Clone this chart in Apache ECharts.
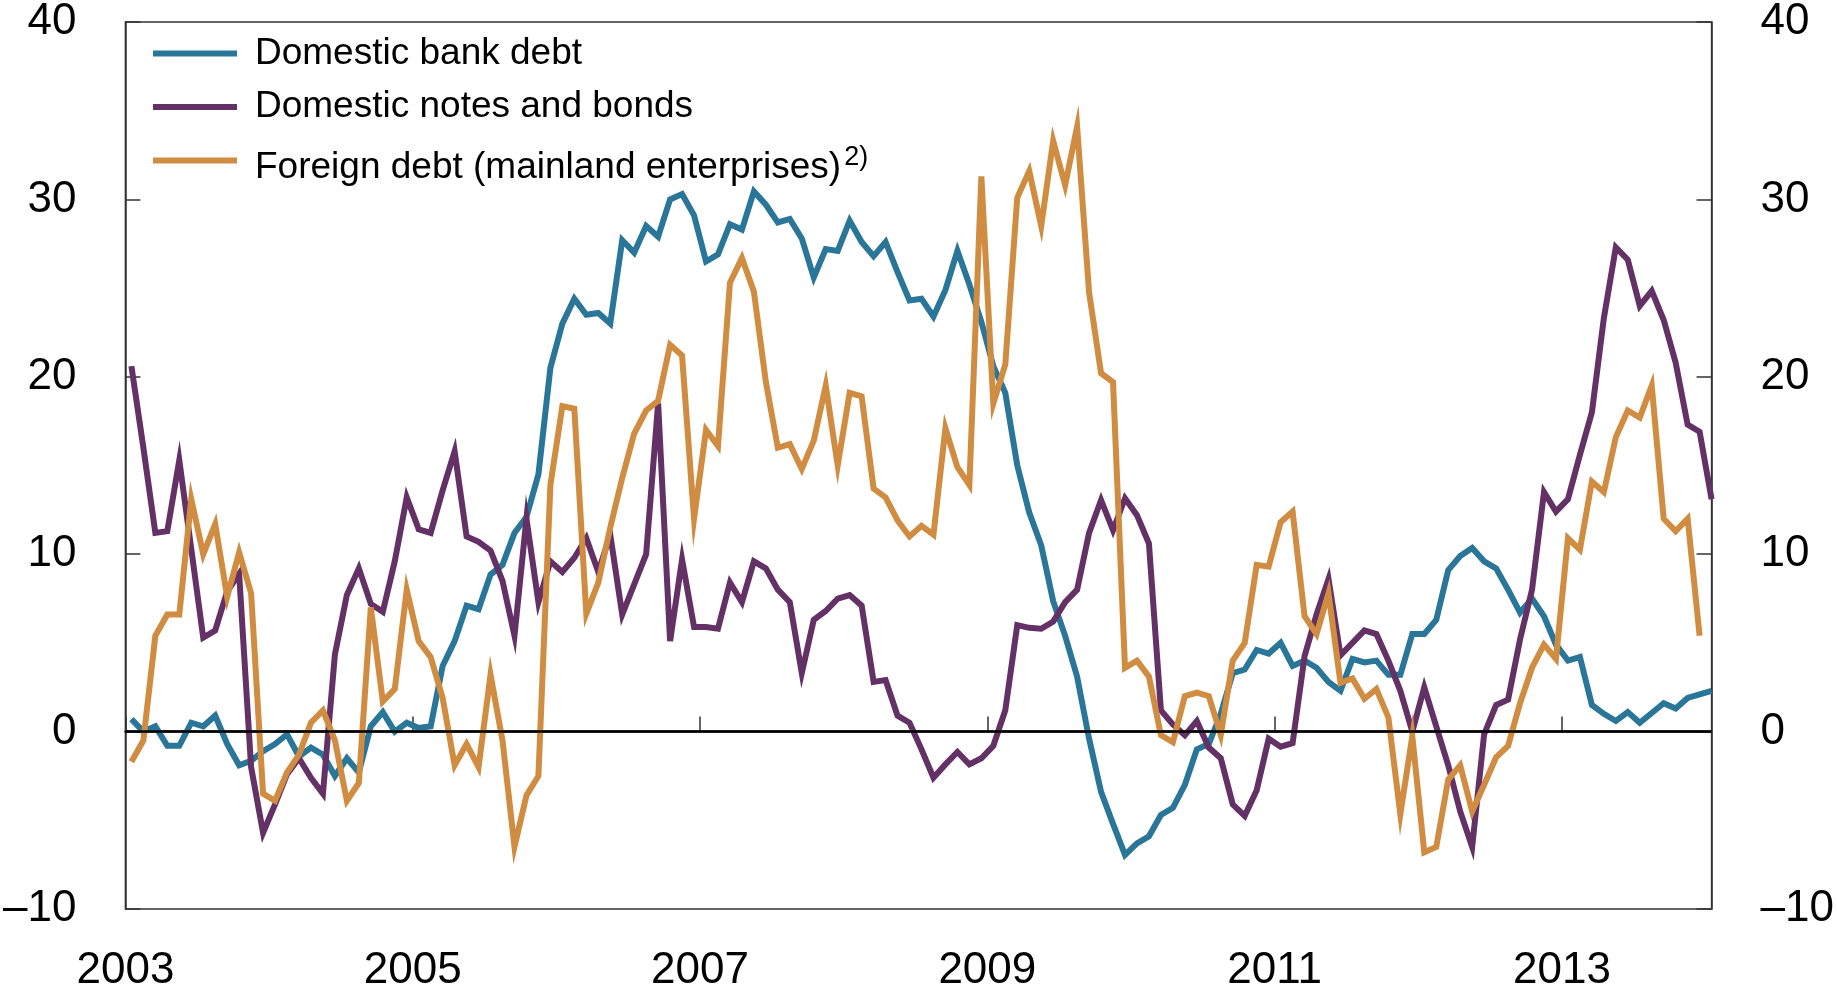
<!DOCTYPE html>
<html>
<head>
<meta charset="utf-8">
<script src="https://cdn.jsdelivr.net/npm/echarts@6/dist/echarts.min.js"></script>
<style>
  html, body { margin: 0; padding: 0; background: #fff; }
  #chart { width: 1837px; height: 995px; }
</style>
</head>
<body>
<div id="chart"></div>
<script>
// Monthly series, Jan 2003 onwards (index 0 = Jan 2003)
const startYear = 2003;
const yTicks = [-10, 0, 10, 20, 30, 40];

const bankDebt = [
  0.7, 0.0, 0.3, -0.8, -0.8, 0.5, 0.3, 0.9, -0.7, -1.9, -1.65, -1.1,
  -0.7, -0.15, -1.4, -0.9, -1.3, -2.5, -1.5, -2.3, 0.3, 1.1, 0.0, 0.5,
  0.2, 0.3, 3.7, 5.1, 7.1, 6.9, 8.85, 9.4, 11.2, 12.1, 14.5, 20.5,
  23.0, 24.4, 23.5, 23.6, 23.0, 27.7, 27.0, 28.5, 27.9, 30.0, 30.3, 29.1,
  26.5, 26.9, 28.6, 28.3, 30.45, 29.7, 28.7, 28.9, 27.8, 25.6, 27.2, 27.1,
  28.8, 27.6, 26.8, 27.6, 25.9, 24.3, 24.4, 23.4, 24.9, 27.1, 25.2, 23.1,
  20.6, 19.1, 15.0, 12.35, 10.5, 7.35, 5.4, 3.1, -0.4, -3.4, -5.2, -6.95,
  -6.3, -5.9, -4.7, -4.3, -3.0, -1.0, -0.7, 1.0, 3.3, 3.5, 4.6, 4.4,
  5.0, 3.7, 4.0, 3.6, 2.8, 2.3, 4.1, 3.9, 4.0, 3.2, 3.2, 5.5,
  5.5, 6.3, 9.1, 9.9, 10.35, 9.6, 9.2, 8.0, 6.7, 7.5, 6.5, 4.9,
  4.0, 4.2, 1.5, 1.0, 0.6, 1.1, 0.5, 1.05, 1.6, 1.3, 1.9, 2.1,
  2.3
];

const notesBonds = [
  20.6, 16.0, 11.2, 11.3, 15.3, 10.3, 5.3, 5.7, 7.9, 8.9, -2.0, -5.7,
  -4.1, -2.4, -1.5, -2.6, -3.5, 4.35, 7.7, 9.2, 7.2, 6.75, 9.6, 13.2,
  11.4, 11.2, 13.6, 15.8, 11.0, 10.7, 10.2, 8.5, 5.4, 12.0, 7.3, 9.6,
  9.0, 9.8, 10.9, 9.0, 11.1, 6.6, 8.3, 10.0, 18.5, 5.1, 9.7, 5.9,
  5.9, 5.8, 8.4, 7.3, 9.6, 9.2, 8.0, 7.3, 3.3, 6.3, 6.8, 7.5,
  7.7, 7.1, 2.8, 2.9, 0.9, 0.5, -1.0, -2.6, -1.85, -1.15, -1.85, -1.5,
  -0.8, 1.2, 6.0, 5.85, 5.8, 6.2, 7.3, 8.0, 11.2, 13.05, 11.35, 13.15,
  12.2, 10.6, 1.2, 0.4, -0.2, 0.6, -0.9, -1.5, -4.1, -4.75, -3.3, -0.4,
  -0.85, -0.65, 4.25, 6.6, 8.6, 4.3, 5.0, 5.7, 5.5, 4.0, 2.3, 0.0,
  2.5, 0.3, -1.9, -4.5, -6.5, -0.15, 1.5, 1.8, 5.2, 8.0, 13.5, 12.4,
  13.1, 15.6, 18.0, 23.3, 27.3, 26.6, 24.0, 24.85, 23.2, 20.8, 17.3, 16.9,
  13.1
];

const foreignDebt = [
  -1.7, -0.5, 5.4, 6.6, 6.6, 13.1, 10.0, 11.7, 7.6, 10.1, 7.8, -3.5,
  -3.9, -2.3, -1.3, 0.5, 1.2, -0.5, -3.9, -2.9, 7.0, 1.7, 2.4, 8.0,
  5.1, 4.2, 1.9, -1.9, -0.7, -2.0, 3.2, -0.5, -6.5, -3.6, -2.5, 13.9,
  18.35, 18.2, 6.65, 8.4, 11.5, 14.3, 16.8, 18.1, 18.65, 21.8, 21.2, 12.0,
  17.0, 16.1, 25.3, 26.7, 24.8, 19.7, 16.0, 16.2, 14.8, 16.4, 19.5, 15.0,
  19.1, 18.9, 13.7, 13.2, 11.9, 11.0, 11.6, 11.1, 17.1, 14.9, 13.9, 31.3,
  18.5, 20.7, 30.1, 31.6, 28.5, 33.3, 30.8, 34.1, 24.75, 20.2, 19.7, 3.6,
  4.0, 3.1, -0.2, -0.6, 2.0, 2.2, 2.0, -0.2, 4.0, 5.0, 9.4, 9.3,
  11.8, 12.4, 6.5, 5.5, 7.8, 2.75, 3.0, 1.85, 2.4, 0.8, -4.65, -0.25,
  -6.8, -6.5, -2.7, -1.9, -4.5, -3.0, -1.45, -0.8, 1.6, 3.6, 4.9, 4.1,
  10.9, 10.25, 14.1, 13.5, 16.6, 18.1, 17.7, 19.5, 12.0, 11.3, 12.0, 5.4
];

const seriesNames = [
  'Domestic bank debt',
  'Domestic notes and bonds',
  'Foreign debt (mainland enterprises)'
];
const footnoteMark = '2)';
const seriesColors = ['#2a7699', '#633165', '#d08c41'];

const fontFamily = '"Liberation Sans", Arial, Helvetica, sans-serif';

// Each monthly value is plotted at the middle of its month
function toPoints(values) {
  return values.map((v, i) => [i + 0.5, v]);
}

// Width of a text in pixels, to put the superscript right after the name
function textWidth(text, font) {
  const ctx = document.createElement('canvas').getContext('2d');
  ctx.font = font;
  return ctx.measureText(text).width;
}

// Legend built by hand so the superscript sits like in the original
const legendX = 153;
const legendTop = 53.5;
const legendStep = 53.5;
const legendItems = [];
seriesNames.forEach((name, k) => {
  const cy = legendTop + k * legendStep;
  const isLast = k === seriesNames.length - 1;
  legendItems.push({
    type: 'rect',
    shape: { x: legendX, y: cy - 3, width: 84, height: 6 },
    style: { fill: seriesColors[k] },
    silent: true
  });
  legendItems.push({
    type: 'text',
    x: legendX + 102,
    y: isLast ? cy + 7 : cy,
    silent: true,
    style: {
      text: name,
      fill: '#000',
      font: '37px ' + fontFamily,
      verticalAlign: 'middle',
      align: 'left'
    }
  });
  if (isLast) {
    legendItems.push({
      type: 'text',
      x: legendX + 102 + textWidth(name, '37px ' + fontFamily) + 3,
      y: cy - 3,
      silent: true,
      style: {
        text: footnoteMark,
        fill: '#000',
        font: '27px ' + fontFamily,
        verticalAlign: 'middle',
        align: 'left'
      }
    });
  }
});

const chart = echarts.init(document.getElementById('chart'), null, { renderer: 'canvas' });

const yAxisCommon = {
  type: 'value',
  min: yTicks[0],
  max: yTicks[yTicks.length - 1],
  interval: 10,
  axisLine: { show: true, lineStyle: { color: '#333', width: 1.5 } },
  axisTick: { show: true, inside: true, length: 15, lineStyle: { color: '#333', width: 1.5 } },
  splitLine: { show: false },
  axisLabel: {
    color: '#000',
    fontSize: 44,
    fontFamily: fontFamily,
    margin: 49,
    formatter: v => (v < 0 ? '\u2013' + Math.abs(v) : String(v))
  }
};

const option = {
  animation: false,
  backgroundColor: '#fff',
  grid: {
    left: 122,
    right: 120,
    top: 18,
    bottom: 86,
    show: true,
    borderColor: '#333',
    borderWidth: 1.5
  },
  graphic: legendItems,
  xAxis: {
    type: 'value',
    min: 0,
    max: 132.5,
    interval: 24,
    axisLine: { show: true, lineStyle: { color: '#444', width: 2.5 } },
    axisTick: { show: true, inside: true, length: 15, lineStyle: { color: '#333', width: 1.5 } },
    splitLine: { show: false },
    axisLabel: {
      color: '#000',
      fontSize: 44,
      fontFamily: fontFamily,
      margin: 40,
      showMaxLabel: false,
      formatter: v => (v % 24 === 0 ? String(startYear + v / 12) : '')
    }
  },
  yAxis: [
    Object.assign({}, yAxisCommon, { position: 'left' }),
    Object.assign({}, yAxisCommon, { position: 'right' })
  ],
  series: [
    {
      name: seriesNames[0],
      type: 'line',
      data: toPoints(bankDebt),
      showSymbol: false,
      color: seriesColors[0],
      lineStyle: { width: 6, color: seriesColors[0], join: 'miter' }
    },
    {
      name: seriesNames[1],
      type: 'line',
      data: toPoints(notesBonds),
      showSymbol: false,
      color: seriesColors[1],
      lineStyle: { width: 6, color: seriesColors[1], join: 'miter' }
    },
    {
      name: seriesNames[2],
      type: 'line',
      data: toPoints(foreignDebt),
      showSymbol: false,
      color: seriesColors[2],
      lineStyle: { width: 6, color: seriesColors[2], join: 'miter' },
      // zero line drawn on top of all the curves
      markLine: {
        silent: true,
        symbol: 'none',
        label: { show: false },
        lineStyle: { color: '#000', width: 2.5, type: 'solid' },
        data: [{ yAxis: 0 }]
      }
    }
  ]
};

chart.setOption(option);
</script>
</body>
</html>
